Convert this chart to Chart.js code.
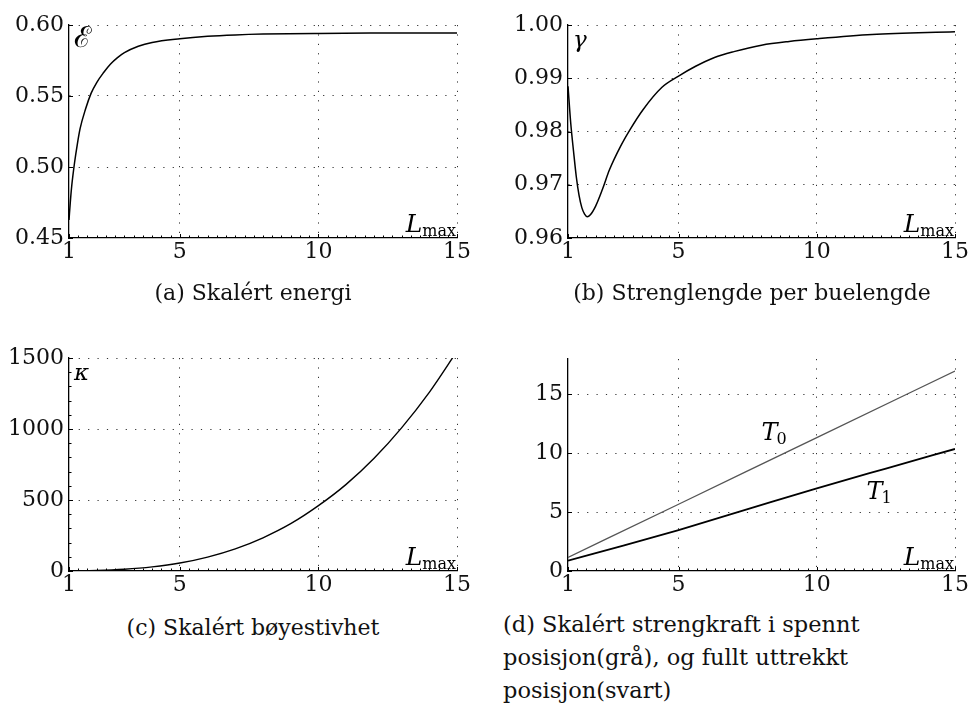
<!DOCTYPE html>
<html>
<head>
<meta charset="utf-8">
<script src="https://cdn.jsdelivr.net/npm/chart.js@4.4.0/dist/chart.umd.min.js"></script>
<style>
  body { margin: 0; background: #fff; width: 971px; height: 704px; position: relative; overflow: hidden; font-family: "DejaVu Serif", serif; color: #111; }
  canvas { position: absolute; }
  .caption { position: absolute; font-size: 22px; white-space: nowrap; line-height: 33px; }
</style>
</head>
<body>
<canvas id="energy" width="480" height="275" style="left:0;top:0"></canvas>
<canvas id="gamma" width="491" height="275" style="left:480px;top:0"></canvas>
<canvas id="kappa" width="480" height="300" style="left:0;top:300px"></canvas>
<canvas id="tension" width="491" height="300" style="left:480px;top:300px"></canvas>

<div class="caption" style="left:0;width:506px;text-align:center;top:276px">(a) Skalért energi</div>
<div class="caption" style="left:480px;width:544px;text-align:center;top:276px">(b) Strenglengde per buelengde</div>
<div class="caption" style="left:0;width:506px;text-align:center;top:611px">(c) Skalért bøyestivhet</div>
<div class="caption" style="left:503px;top:608px;font-size:22.5px">(d) Skalért strengkraft i spennt<br>posisjon(grå), og fullt uttrekkt<br>posisjon(svart)</div>

<script>
// (a) scaled energy vs L_max
const energyL = [1, 1.05, 1.1, 1.2, 1.3, 1.4, 1.6, 1.8, 2.0, 2.25, 2.5, 2.75, 3.0, 3.5, 4.0, 5, 6, 7, 8, 10, 12, 15];
const energyE = [0.4627, 0.476, 0.487, 0.503, 0.516, 0.527, 0.541, 0.552, 0.5595, 0.5665, 0.5725, 0.577, 0.5805, 0.585, 0.5877, 0.5903, 0.592, 0.593, 0.5936, 0.5941, 0.5943, 0.5944];

// (b) string length per arc length
const gammaL = [1, 1.1, 1.2, 1.3, 1.4, 1.5, 1.6, 1.7, 1.8, 2.0, 2.25, 2.5, 2.9, 3.25, 3.7, 4.4, 5, 5.6, 6.3, 7, 8, 9, 10, 12, 15];
const gammaG = [0.9885, 0.9815, 0.9763, 0.9715, 0.968, 0.9657, 0.9645, 0.964, 0.9643, 0.966, 0.9692, 0.9728, 0.9772, 0.9804, 0.984, 0.9883, 0.9904, 0.9922, 0.9939, 0.995, 0.9962, 0.9969, 0.9974, 0.9982, 0.99875];

// (c) scaled bending stiffness
const kappaL = [1, 2, 3, 4, 5, 6, 7, 8, 9, 10, 11, 12, 13, 14, 15];
const kappaK = [0.5, 3.7, 12.4, 29, 56, 98, 156, 234, 333, 460, 610, 792, 1008, 1258, 1548];

// (d) string force, tensioned (T0, grey) and fully drawn (T1, black)
const t0L = [1, 5, 10, 15];
const t0T = [1.15, 5.67, 11.33, 16.98];
const t1L = [1, 3, 5, 7.5, 10, 12.5, 15];
const t1T = [0.88, 2.15, 3.48, 5.25, 7.02, 8.7, 10.36];

const xTicks = [1, 5, 10, 15];
const energyTicks = [0.45, 0.5, 0.55, 0.6];
const gammaTicks = [0.96, 0.97, 0.98, 0.99, 1.0];
const kappaTicks = [0, 500, 1000, 1500];
const tensionTicks = [0, 5, 10, 15];

const FONT = '"DejaVu Serif", serif';
const DOTS = '#333';

const points = (xs, ys) => xs.map((x, i) => ({ x, y: ys[i] }));

// inward tick marks and the axis symbols drawn inside the frame
const frameMarks = {
  id: 'frameMarks',
  afterDraw(chart, args, opts) {
    const { ctx, chartArea: a, scales: { x, y } } = chart;
    ctx.save();
    ctx.strokeStyle = '#000';
    ctx.lineWidth = 1;
    ctx.beginPath();
    for (let v = x.min; v <= x.max + 1e-6; v += 1 / 3) {
      const px = Math.round(x.getPixelForValue(v)) + 0.5;
      const len = xTicks.some(t => Math.abs(t - v) < 1e-6) ? 4 : 2.5;
      ctx.moveTo(px, a.bottom);
      ctx.lineTo(px, a.bottom - len);
    }
    opts.yTicks.forEach(v => {
      const py = Math.round(y.getPixelForValue(v)) + 0.5;
      ctx.moveTo(a.left, py);
      ctx.lineTo(a.left + 4, py);
    });
    if (opts.yMinor) {
      for (let v = y.min; v <= y.max; v += opts.yMinor) {
        const py = Math.round(y.getPixelForValue(v)) + 0.5;
        ctx.moveTo(a.left, py);
        ctx.lineTo(a.left + 2.5, py);
      }
    }
    ctx.stroke();

    ctx.fillStyle = '#000';
    ctx.textBaseline = 'alphabetic';
    // L_max at the lower right
    ctx.font = '16px ' + FONT;
    ctx.textAlign = 'right';
    const sub = 'max';
    const subW = ctx.measureText(sub).width;
    ctx.fillText(sub, a.right - 1, a.bottom - 2);
    ctx.font = 'italic 25px ' + FONT;
    ctx.fillText('L', a.right - 1 - subW, a.bottom - 6);

    if (opts.symbol) {
      ctx.textAlign = 'left';
      ctx.font = (opts.symbolFont || 'italic 23px ') + FONT;
      ctx.fillText(opts.symbol, a.left + 5, a.top + 22);
    }
    (opts.notes || []).forEach(n => {
      const px = x.getPixelForValue(n.x);
      const py = y.getPixelForValue(n.y);
      ctx.textAlign = 'left';
      ctx.font = 'italic 24px ' + FONT;
      ctx.fillText(n.main, px, py);
      const w = ctx.measureText(n.main).width;
      ctx.font = '16px ' + FONT;
      ctx.fillText(n.sub, px + w - 1, py + 4);
    });
    ctx.restore();
  }
};

function makeChart(id, box, datasets, yOpts, marks) {
  const canvas = document.getElementById(id);
  return new Chart(canvas, {
    type: 'line',
    data: { datasets },
    options: {
      responsive: false,
      animation: false,
      events: [],
      layout: { padding: { top: box.top, right: canvas.width - box.right, left: 0, bottom: 0 } },
      plugins: { legend: { display: false }, tooltip: { enabled: false }, frameMarks: marks },
      elements: { point: { radius: 0 }, line: { cubicInterpolationMode: 'monotone' } },
      scales: {
        x: {
          type: 'linear', min: 1, max: 15,
          afterBuildTicks: s => { s.ticks = xTicks.map(v => ({ value: v })); },
          afterFit: s => { s.height = canvas.height - box.bottom; },
          ticks: { font: { family: FONT, size: 22 }, color: '#111', padding: 1, maxRotation: 0, autoSkip: false },
          grid: { drawTicks: false, lineWidth: 1, color: c => (c.tick && c.tick.value > 1 ? DOTS : 'transparent') },
          border: { color: '#000', width: 1.3, dash: [1.2, 8.2] }
        },
        y: {
          type: 'linear', min: yOpts.min, max: yOpts.max,
          afterBuildTicks: s => { s.ticks = yOpts.ticks.map(v => ({ value: v })); },
          afterFit: s => { s.width = box.left; },
          ticks: { font: { family: FONT, size: 22 }, color: '#111', padding: 5, callback: yOpts.format },
          grid: { drawTicks: false, lineWidth: 1, color: c => (c.tick && c.tick.value > yOpts.min ? DOTS : 'transparent') },
          border: { color: '#000', width: 1.3, dash: [1.2, 8.2] }
        }
      }
    },
    plugins: [frameMarks]
  });
}

const curve = (xs, ys, color, width) => ({
  data: points(xs, ys), borderColor: color, borderWidth: width, fill: false
});

makeChart('energy', { left: 69, top: 25, right: 457, bottom: 238 },
  [curve(energyL, energyE, '#000', 1.5)],
  { min: 0.45, max: 0.6, ticks: energyTicks, format: v => v.toFixed(2) },
  { symbol: 'ℰ', symbolFont: '29px ', yTicks: energyTicks });

makeChart('gamma', { left: 88, top: 25, right: 475, bottom: 238 },
  [curve(gammaL, gammaG, '#000', 1.5)],
  { min: 0.96, max: 1.0, ticks: gammaTicks, format: v => v.toFixed(2) },
  { symbol: 'γ', yTicks: gammaTicks });

makeChart('kappa', { left: 69, top: 58, right: 457, bottom: 271 },
  [curve(kappaL, kappaK, '#000', 1.4)],
  { min: 0, max: 1500, ticks: kappaTicks, format: v => String(v) },
  { symbol: 'κ', yTicks: kappaTicks, yMinor: 100 });

makeChart('tension', { left: 88, top: 59, right: 475, bottom: 271 },
  [curve(t0L, t0T, '#555', 1.3), curve(t1L, t1T, '#000', 1.8)],
  { min: 0, max: 18, ticks: tensionTicks, format: v => String(v) },
  { yTicks: tensionTicks, notes: [{ x: 8.0, y: 11.1, main: 'T', sub: '0' }, { x: 11.8, y: 6.1, main: 'T', sub: '1' }] });
</script>
</body>
</html>
